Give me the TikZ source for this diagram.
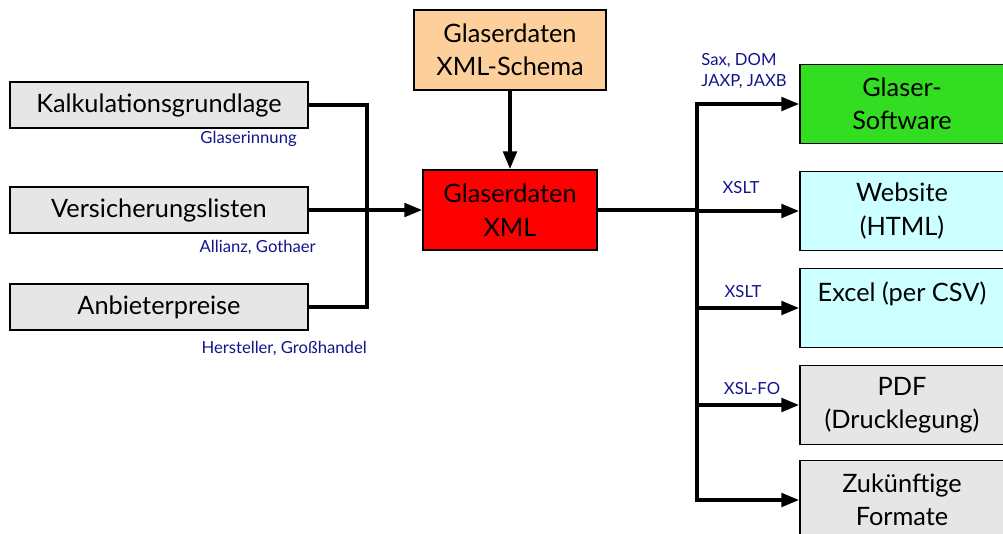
\documentclass[tikz,border=0pt]{standalone}
\usepackage{fontspec}
\setmainfont{Lato}
\usepackage{xcolor}
\usepackage{tikz}
\usetikzlibrary{arrows.meta}
\definecolor{boxgray}{RGB}{230,230,230}
\definecolor{peach}{RGB}{252,207,155}
\definecolor{xmlred}{RGB}{255,0,0}
\definecolor{swgreen}{RGB}{51,221,34}
\definecolor{lightcyan}{RGB}{204,255,255}
\definecolor{navy}{RGB}{20,20,140}

\begin{document}
\begin{tikzpicture}[x=0.75pt,y=-0.75pt,
    box/.style={draw=black,line width=1pt,align=center,inner sep=0pt,font=\fontsize{19}{25}\selectfont},
    lbl/.style={text=navy,font=\fontsize{12.5}{16}\selectfont,inner sep=0pt,align=left},
    conn/.style={line width=3pt},
    arr/.style={conn,-{Triangle[length=13.5pt,width=10pt]}}]
    \clip (0,0) rectangle (1003,533);

    % sources
    \node[box,fill=boxgray,minimum width=223.5pt,minimum height=34.5pt] (kalk) at (159,105) {Kalkulationsgrundlage};
    \node[box,fill=boxgray,minimum width=223.5pt,minimum height=34.5pt] (vers) at (159,210) {Versicherungslisten};
    \node[box,fill=boxgray,minimum width=223.5pt,minimum height=34.5pt] (anb) at (159,307) {Anbieterpreise};
    \node[lbl,anchor=east] (kalklbl) at (297,139) {Glaserinnung};
    \node[lbl,anchor=east] (verslbl) at (316,247) {Allianz, Gothaer};
    \node[lbl,anchor=east] (anblbl) at (367,348) {Hersteller, Großhandel};

    % center
    \node[box,fill=peach,minimum width=144pt,minimum height=60pt] (schema) at (510,50) {Glaserdaten\\XML-Schema};
    \node[box,fill=xmlred,minimum width=130.5pt,minimum height=60pt] (xml) at (510,210) {Glaserdaten\\XML};

    % targets
    \node[box,fill=swgreen,minimum width=153pt,minimum height=59.25pt] (gsw) at (902,104) {Glaser-\\Software};
    \node[box,fill=lightcyan,minimum width=153pt,minimum height=59.25pt] (web) at (902,211) {Website\\(HTML)};
    \node[box,fill=lightcyan,minimum width=153pt,minimum height=59.25pt] (excel) at (902,308) {Excel (per CSV)\\\mbox{}};
    \node[box,fill=boxgray,minimum width=153pt,minimum height=59.25pt] (pdf) at (902,405) {PDF\\(Drucklegung)};
    \node[box,fill=boxgray,minimum width=153pt,minimum height=59.25pt] (fut) at (902,500) {Zukünftige\\Formate};
    \node[lbl] (gswlbl) at (744,71) {Sax, DOM\\JAXP, JAXB};
    \node[lbl] (weblbl) at (741,188) {XSLT};
    \node[lbl] (excellbl) at (743,292) {XSLT};
    \node[lbl] (pdflbl) at (752,389) {XSL-FO};

    % connectors
    \coordinate (jl) at (367,210);
    \coordinate (jr) at (697,210);
    \draw[conn] (kalk.east) -| (jl) |- (anb.east);
    \draw[arr] (vers) -- (xml);
    \draw[arr] (schema) -- (xml);
    \draw[conn] (xml) -- (jr);
    \draw[arr] (jr) |- (gsw);
    \draw[arr] (jr) |- (web);
    \draw[arr] (jr) |- (excel);
    \draw[arr] (jr) |- (pdf);
    \draw[arr] (jr) |- (fut);
\end{tikzpicture}
\end{document}
